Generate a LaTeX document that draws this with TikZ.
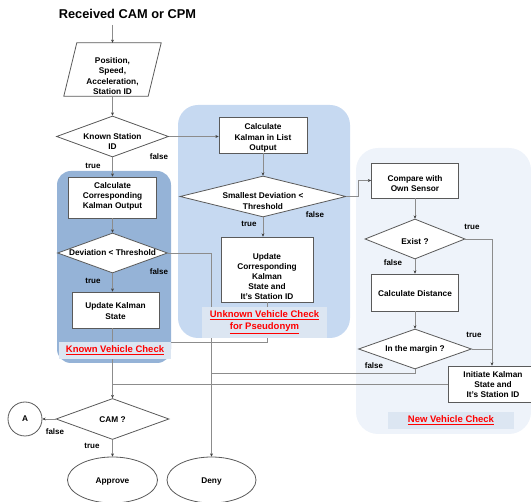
\documentclass[tikz,border=0pt]{standalone}
\usepackage{fontspec}
\setmainfont{Liberation Sans}
\usetikzlibrary{shapes.geometric,arrows.meta}
\definecolor{knownc}{HTML}{95B3D7}
\definecolor{unkc}{HTML}{C6D9F1}
\definecolor{newc}{HTML}{EEF3FA}
\definecolor{tagc}{HTML}{DCE6F2}
\definecolor{linec}{HTML}{8C8C8C}
\definecolor{boxc}{HTML}{5A5A5A}
\definecolor{redc}{HTML}{FF0000}
\begin{document}
\begin{tikzpicture}[x=1pt,y=-1pt,
  box/.style={draw=boxc, fill=white, line width=0.8pt, inner sep=0pt, rectangle},
  dia/.style={diamond, draw=boxc, fill=white, line width=0.8pt, inner sep=0pt},
  shapeline/.style={draw=boxc, fill=white, line width=0.8pt},
  term/.style={ellipse, draw=boxc, fill=white, line width=0.8pt, inner sep=0pt},
  txt/.style={font=\bfseries\fontsize{8.3}{10.2}\selectfont, align=center, inner sep=0pt},
  lbl/.style={font=\bfseries\fontsize{8}{10}\selectfont, inner sep=0pt},
  conn/.style={draw=linec, line width=0.7pt},
  arr/.style={conn, -{Stealth[length=3.2pt, width=3pt, color=black!75]}},
  tag/.style={fill=tagc, text=redc, font=\bfseries\fontsize{9.5}{12}\selectfont, align=center, inner sep=0pt}
]
\useasboundingbox (0,0) rectangle (531,502);
% background regions
\fill[unkc, rounded corners=20] (178,105) rectangle (350,338);
\fill[newc, rounded corners=22] (356,148) rectangle (531,434);
% update corresponding box and its outgoing line (hidden under the known region)
\node[box, minimum width=92, minimum height=65] (updc) at (267,269.5) {};
\node[txt] (updct) at (267,276.5) {Update\\Corresponding\\Kalman\\State and\\It's Station ID};
\coordinate (j1) at (113,342);
\draw[conn] (updc.south) |- (j1);
\fill[knownc, rounded corners=14] (57,171) rectangle (171,363);
% title
\node[font=\bfseries\fontsize{12.8}{15}\selectfont, inner sep=0pt] (title) at (127.5,14) {Received CAM or CPM};
\coordinate (tstart) at (112.5,25);
% left column
\node[rectangle, minimum width=97, minimum height=53, inner sep=0pt] (para) at (112.5,69.5) {};
\path[shapeline] ([xshift=13pt]para.north west) -- (para.north east) -- ([xshift=-13pt]para.south east) -- (para.south west) -- cycle;
\node[txt] (parat) at (112.5,76) {Position,\\Speed,\\Acceleration,\\Station ID};
\node[dia, minimum width=112, minimum height=41] (known) at (112.5,136.5) {};
\node[txt] (knownt) at (112.5,141.5) {Known Station\\ID};
\node[box, minimum width=88, minimum height=41] (calcko) at (112.5,197.5) {};
\node[txt] (calckot) at (112.5,196.5) {Calculate\\Corresponding\\Kalman Output};
\node[dia, minimum width=110, minimum height=40] (dev) at (112.5,253) {};
\node[txt] (devt) at (112.5,253) {Deviation < Threshold};
\node[box, minimum width=87, minimum height=36] (updk) at (115.5,310) {};
\node[txt] (updkt) at (115.5,311) {Update Kalman\\State};
\node[dia, minimum width=113, minimum height=41] (cam) at (112.5,419) {};
\node[txt] (camt) at (112.5,420) {CAM ?};
\node[circle, draw=boxc, fill=white, line width=0.8pt, minimum size=34, inner sep=0pt] (A) at (25,419) {};
\node[txt] (At) at (25,419) {A};
\node[term, minimum width=90, minimum height=46] (approve) at (112.5,480) {};
\node[txt] (approvet) at (112.5,482) {Approve};
\node[term, minimum width=89, minimum height=46] (deny) at (211.5,480) {};
\node[txt] (denyt) at (211.5,482) {Deny};
% unknown column
\node[box, minimum width=88, minimum height=36] (calclist) at (263,135) {};
\node[txt] (calclistt) at (263,138) {Calculate\\Kalman in List\\Output};
\node[dia, minimum width=166, minimum height=41] (small) at (263,196.5) {};
\node[txt] (smallt) at (263,201) {Smallest Deviation <\\Threshold};
% new column
\node[box, minimum width=87, minimum height=35] (compare) at (415,180.5) {};
\node[txt] (comparet) at (415,183.5) {Compare with\\Own Sensor};
\node[dia, minimum width=100, minimum height=40] (exist) at (415,239) {};
\node[txt] (existt) at (415,242) {Exist ?};
\node[box, minimum width=87, minimum height=37] (calcdist) at (415,292.5) {};
\node[txt] (calcdistt) at (415,294) {Calculate Distance};
\node[dia, minimum width=113, minimum height=40] (margin) at (415,349) {};
\node[txt] (margint) at (415,349) {In the margin ?};
\node[box, minimum width=83, minimum height=36] (init) at (489.5,384) {};
\node[txt] (initt) at (493,384.5) {Initiate Kalman\\State and\\It's Station ID};
\coordinate (initin) at ([xshift=2.5pt]init.north);
\coordinate (jd) at (211.5,373);
% connectors
\draw[arr] (tstart) -- (para.north);
\draw[arr] (para.south) -- (known.north);
\draw[arr] (known.east) -- (known.east -| calclist.west);
\draw[arr] (known.south) -- (calcko.north -| known.south);
\draw[arr] (calcko.south -| dev.north) -- (dev.north);
\draw[arr] (dev.south) -- (dev.south |- updk.north);
\draw[arr] (dev.east) -| (deny.north);
\draw[arr] (updk.south -| cam.north) -- (cam.north);
\draw[arr] (calclist.south) -- (small.north);
\draw[arr] (small.south) -- (small.south |- updc.north);
\draw[arr] (small.east) -- ++(12,0) |- (compare.west);
\draw[arr] (compare.south) -- (exist.north);
\draw[arr] (exist.south) -- (calcdist.north);
\draw[arr] (calcdist.south) -- (margin.north);
\draw[arr] (exist.east) -| (initin);
\draw[conn] (margin.east) -- (margin.east -| initin);
\draw[conn] (margin.south) |- (jd);
\draw[conn] (init.west) -- (init.west -| cam.north);
\draw[arr] (cam.west) -- (A.east);
\draw[arr] (cam.south) -- (approve.north);
% branch labels
\node[lbl] (l1) at (159,157) {false};
\node[lbl] (l2) at (93,166) {true};
\node[lbl] (l3) at (159,272) {false};
\node[lbl] (l4) at (93,281) {true};
\node[lbl] (l5) at (315,215) {false};
\node[lbl] (l6) at (249,224) {true};
\node[lbl] (l7) at (472,227) {true};
\node[lbl] (l8) at (393,263) {false};
\node[lbl] (l9) at (474,335) {true};
\node[lbl] (l10) at (374,366) {false};
\node[lbl] (l11) at (55,432) {false};
\node[lbl] (l12) at (92,446) {true};
% region tags
\node[tag, minimum width=112, minimum height=17] (tagk) at (115,350.5) {\underline{Known Vehicle Check}};
\node[tag, minimum width=125, minimum height=31] (tagu) at (264.5,322.5) {\underline{Unknown Vehicle Check}\\\underline{for Pseudonym}};
\node[tag, minimum width=126, minimum height=17] (tagn) at (451,420.5) {\underline{New Vehicle Check}};
\end{tikzpicture}
\end{document}
